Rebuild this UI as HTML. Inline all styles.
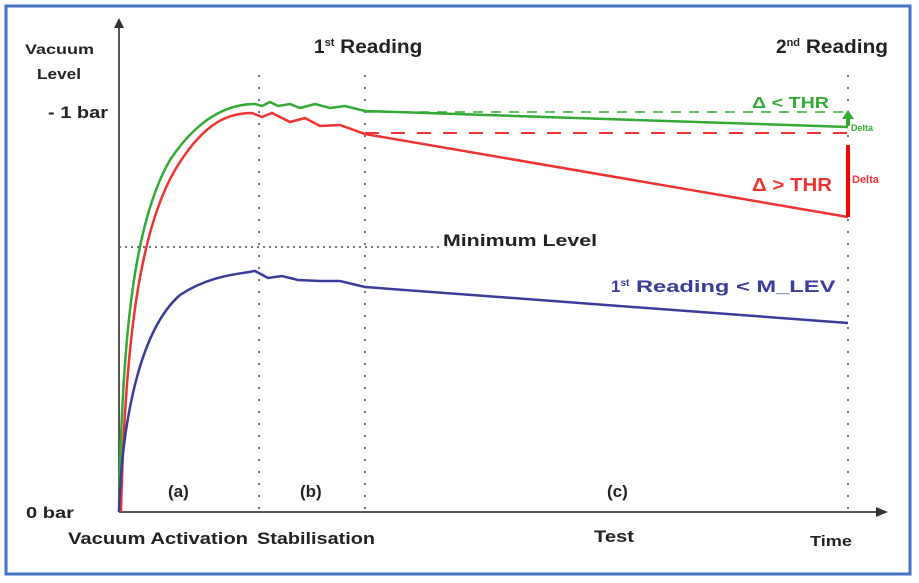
<!DOCTYPE html>
<html><head><meta charset="utf-8"><style>
body{margin:0;background:#fff;width:919px;height:583px;overflow:hidden}
svg{display:block}
text{font-family:"Liberation Sans",sans-serif;font-weight:bold}
</style></head><body>
<svg width="919" height="583" viewBox="0 0 919 583">
<rect x="6" y="6" width="904" height="568" fill="#fff" stroke="#4472c4" stroke-width="3"/>
<g stroke="#777" stroke-width="2" stroke-dasharray="2,10" fill="none">
<line x1="259" y1="75" x2="259" y2="512"/>
<line x1="365" y1="75" x2="365" y2="512"/>
<line x1="848" y1="75" x2="848" y2="512"/>
<line x1="119" y1="247" x2="443" y2="247" stroke-dasharray="2,4"/>
</g>
<line x1="119" y1="512" x2="119" y2="26" stroke="#555" stroke-width="2"/>
<polygon points="119,18 114,28 124,28" fill="#333"/>
<line x1="119" y1="512" x2="878" y2="512" stroke="#555" stroke-width="2"/>
<polygon points="888,512 876,507 876,517" fill="#333"/>
<line x1="365" y1="112" x2="848" y2="112" stroke="#3a3" stroke-width="1.5" stroke-dasharray="10,8"/>
<line x1="365" y1="133" x2="848" y2="133" stroke="#e33" stroke-width="2" stroke-dasharray="14,12"/>
<path d="M119,512 C122,330 135,220 170,160 C200,115 230,104 255,104 L262,106 L270,102 L278,106 L290,104 L300,108 L315,104 L330,108 L345,106 L365,111 L848,127" fill="none" stroke="#3a3" stroke-width="2.5"/>
<path d="M121,512 C125,340 140,230 175,170 C205,120 230,113 252,113 L262,117 L272,113 L290,122 L305,118 L320,126 L340,125 L365,134 L848,217" fill="none" stroke="#e33" stroke-width="2.5"/>
<path d="M119,512 C122,420 140,330 180,295 C210,275 240,274 255,271 L268,278 L282,276 L298,280 L320,281 L340,281 L365,287 L848,323" fill="none" stroke="#3b3b9a" stroke-width="2.5"/>
<line x1="848" y1="217" x2="848" y2="145" stroke="#e00" stroke-width="4"/>
<line x1="848" y1="126" x2="848" y2="117" stroke="#3a3" stroke-width="4"/>
<polygon points="848,110 842,119 854,119" fill="#3a3"/>
<text x="25" y="54" font-size="14" fill="#222" textLength="69" lengthAdjust="spacingAndGlyphs">Vacuum</text>
<text x="37" y="79" font-size="15" fill="#222" textLength="44" lengthAdjust="spacingAndGlyphs">Level</text>
<text x="48" y="118" font-size="17" fill="#222" textLength="60" lengthAdjust="spacingAndGlyphs">- 1 bar</text>
<text x="26" y="518" font-size="16" fill="#222" textLength="48" lengthAdjust="spacingAndGlyphs">0 bar</text>
<text x="314" y="53" font-size="19" fill="#222">1<tspan font-size="11" dy="-7">st</tspan><tspan dy="7" textLength="88" lengthAdjust="spacingAndGlyphs"> Reading</tspan></text>
<text x="776" y="53" font-size="19" fill="#222">2<tspan font-size="11" dy="-7">nd</tspan><tspan dy="7" textLength="88" lengthAdjust="spacingAndGlyphs"> Reading</tspan></text>
<text x="752" y="108" font-size="16" fill="#3a3" textLength="77" lengthAdjust="spacingAndGlyphs">Δ &lt; THR</text>
<text x="851" y="131" font-size="9" fill="#3a3">Delta</text>
<text x="752" y="191" font-size="18" fill="#e33" textLength="80" lengthAdjust="spacingAndGlyphs">Δ &gt; THR</text>
<text x="852" y="183" font-size="11" fill="#e33">Delta</text>
<text x="443" y="246" font-size="17" fill="#222" textLength="154" lengthAdjust="spacingAndGlyphs">Minimum Level</text>
<text x="611" y="292" font-size="17" fill="#3b3b9a">1<tspan font-size="10" dy="-6">st</tspan><tspan dy="6" textLength="206" lengthAdjust="spacingAndGlyphs"> Reading &lt; M_LEV</tspan></text>
<text x="168" y="497" font-size="17" fill="#222" font-weight="normal">(a)</text>
<text x="300" y="497" font-size="17" fill="#222" font-weight="normal">(b)</text>
<text x="607" y="497" font-size="17" fill="#222" font-weight="normal">(c)</text>
<text x="68" y="544" font-size="17" fill="#222" textLength="180" lengthAdjust="spacingAndGlyphs">Vacuum Activation</text>
<text x="257" y="544" font-size="17" fill="#222" textLength="118" lengthAdjust="spacingAndGlyphs">Stabilisation</text>
<text x="594" y="542" font-size="17" fill="#222" textLength="40" lengthAdjust="spacingAndGlyphs">Test</text>
<text x="810" y="546" font-size="15" fill="#222" textLength="42" lengthAdjust="spacingAndGlyphs">Time</text>
</svg>
</body></html>
